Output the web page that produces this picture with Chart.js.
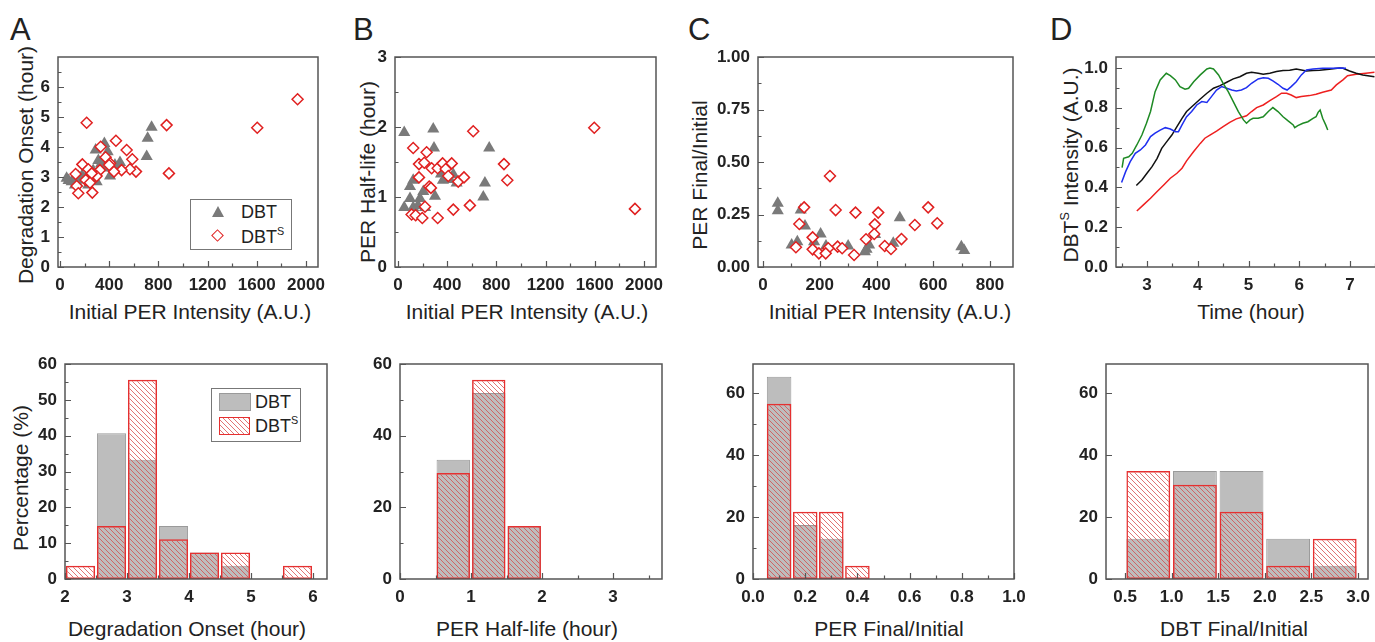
<!DOCTYPE html>
<html>
<head>
<meta charset="utf-8">
<script src="https://cdn.jsdelivr.net/npm/chart.js@4.4.1/dist/chart.umd.min.js"></script>
<style>
body { margin: 0; width: 1375px; height: 642px; overflow: hidden; background: #fff; position: relative;
       font-family: "Liberation Sans", Arial, sans-serif; color: #222; }
canvas { position: absolute; }
.t { position: absolute; white-space: nowrap; font-size: 21px; line-height: 1; transform: translate(-50%, -50%); }
.v { transform: translate(-50%, -50%) rotate(-90deg); }
.t sup, .lg sup { font-size: 0.6em; vertical-align: 0.7em; line-height: 0; }
.letter { position: absolute; font-size: 31px; line-height: 1; }
.lg { position: absolute; border: 1px solid #777; background: #fff; font-size: 18px; }
.lg span { position: absolute; line-height: 1; transform: translateY(-50%); white-space: nowrap; }
.tri { position: absolute; width: 0; height: 0; border-left: 6px solid transparent; border-right: 6px solid transparent; border-bottom: 11px solid #7a7a7a; }
.dia { position: absolute; width: 7px; height: 7px; border: 1.5px solid #e02020; transform: rotate(45deg); background: #fff; }
.sw { position: absolute; }
</style>
</head>
<body>

<div class="letter" style="left:10px;top:14px">A</div>
<div class="letter" style="left:353px;top:14px">B</div>
<div class="letter" style="left:688px;top:14px">C</div>
<div class="letter" style="left:1050px;top:14px">D</div>

<div class="t" style="left:190px;top:311px">Initial PER Intensity (A.U.)</div>
<div class="t" style="left:527px;top:311px">Initial PER Intensity (A.U.)</div>
<div class="t" style="left:890px;top:311px">Initial PER Intensity (A.U.)</div>
<div class="t" style="left:1251px;top:311px">Time (hour)</div>
<div class="t v" style="left:25px;top:165px">Degradation Onset (hour)</div>
<div class="t v" style="left:367px;top:172px">PER Half-life (hour)</div>
<div class="t v" style="left:699px;top:175px">PER Final/Initial</div>
<div class="t v" style="left:1070px;top:165px">DBT<sup>S</sup> Intensity (A.U.)</div>

<div class="t" style="left:187px;top:628px">Degradation Onset (hour)</div>
<div class="t" style="left:527px;top:628px">PER Half-life (hour)</div>
<div class="t" style="left:889px;top:628px">PER Final/Initial</div>
<div class="t" style="left:1234px;top:628px">DBT Final/Initial</div>
<div class="t v" style="left:20px;top:478px">Percentage (%)</div>

<div class="lg" style="left:190px;top:199px;width:100px;height:49px">
  <div class="tri" style="left:21px;top:6px"></div>
  <span style="left:50px;top:12px">DBT</span>
  <div class="dia" style="left:22px;top:31px"></div>
  <span style="left:50px;top:37px">DBT<sup>S</sup></span>
</div>

<div class="lg" style="left:211px;top:388px;width:88px;height:52px">
  <div class="sw" style="left:7px;top:4px;width:30px;height:16px;background:#bdbdbd;border:1px solid #9a9a9a"></div>
  <span style="left:43px;top:13px">DBT</span>
  <div class="sw" style="left:7px;top:28px;width:29px;height:16px;border:1.5px solid #e53030;
       background:repeating-linear-gradient(45deg,#fff 0 2.5px,rgba(215,70,70,0.75) 2.5px 3.5px)"></div>
  <span style="left:43px;top:37px">DBT<sup>S</sup></span>
</div>

<script>
// ---- panel A: degradation onset vs initial PER intensity ----
const onsetDbt = [[745,4.66],[713,4.29],[361,4.12],[705,3.68],[290,3.90],[388,3.84],[312,3.55],
  [488,3.48],[447,3.40],[407,3.03],[230,3.14],[335,3.45],[270,3.22],[365,3.30],[180,3.05],[150,3.02],
  [298,2.84],[230,2.73],[54,2.96],[95,2.84],[122,2.73],[163,2.96],[109,2.92],[70,2.88],[140,2.80],[200,2.90],[250,2.98]];
const onsetDbts = [[217,4.81],[867,4.73],[455,4.21],[331,4.01],[542,3.90],[371,3.66],[588,3.59],[182,3.42],
  [407,3.46],[886,3.12],[618,3.18],[569,3.26],[501,3.23],[439,3.18],[325,3.23],[230,3.26],[127,3.10],
  [298,3.03],[258,3.12],[209,2.90],[136,2.70],[244,2.81],[149,2.46],[263,2.48],[1604,4.64],[1932,5.59],[400,3.40]];

// ---- panel B: PER half-life vs initial PER intensity ----
const halfDbt = [[51,1.92],[287,1.97],[293,1.70],[742,1.70],[450,1.32],[382,1.27],[366,1.24],[477,1.20],
  [707,1.20],[694,1.00],[124,1.24],[98,1.15],[206,1.08],[301,1.01],[98,0.98],[179,0.98],[51,0.85],
  [124,0.85],[220,0.85],[163,0.88],[407,1.30],[350,1.33],[420,1.25]];
const halfDbts = [[612,1.94],[1596,1.99],[1927,0.83],[124,1.70],[233,1.64],[171,1.47],[214,1.49],[274,1.41],
  [323,1.41],[363,1.48],[388,1.40],[437,1.48],[409,1.30],[490,1.22],[537,1.28],[862,1.47],[889,1.24],
  [171,1.28],[254,1.15],[268,1.13],[220,0.86],[111,0.75],[144,0.74],[198,0.70],[323,0.70],[450,0.82],[585,0.88]];

// ---- panel C: PER final/initial vs initial PER intensity ----
const ratioDbt = [[52,0.303],[52,0.268],[133,0.271],[148,0.195],[203,0.157],[482,0.235],[699,0.097],
  [709,0.078],[101,0.105],[121,0.12],[222,0.10],[300,0.10],[365,0.084],[374,0.105],[459,0.113],
  [359,0.073],[395,0.155],[180,0.12]];
const ratioDbts = [[236,0.433],[145,0.284],[256,0.271],[326,0.259],[406,0.259],[582,0.284],[614,0.208],
  [535,0.20],[394,0.203],[128,0.205],[392,0.157],[363,0.132],[488,0.133],[175,0.141],[429,0.10],
  [451,0.086],[263,0.097],[279,0.089],[230,0.089],[175,0.084],[197,0.065],[221,0.065],[116,0.094],[321,0.057]];

// ---- panel D: DBTS intensity traces ----
const greenT = [2.51,2.54,2.64,2.71,2.80,2.90,2.99,3.07,3.16,3.26,3.38,3.46,3.56,3.65,3.75,3.82,3.92,4.05,4.18,
  4.24,4.31,4.41,4.50,4.60,4.70,4.80,4.90,4.96,5.03,5.09,5.19,5.29,5.39,5.48,5.58,5.68,5.78,5.88,5.91,5.97,
  6.07,6.17,6.27,6.33,6.37,6.41,6.46,6.52,6.56];
const greenY = [0.499,0.546,0.554,0.571,0.613,0.663,0.722,0.781,0.881,0.94,0.973,0.961,0.94,0.906,0.893,0.898,
  0.931,0.965,0.995,1.0,0.995,0.965,0.923,0.881,0.831,0.781,0.739,0.722,0.739,0.747,0.747,0.755,0.781,0.801,
  0.781,0.755,0.734,0.714,0.70,0.71,0.722,0.73,0.747,0.755,0.777,0.789,0.747,0.714,0.688];
const blueT = [2.50,2.58,2.67,2.77,2.87,2.97,3.07,3.16,3.26,3.36,3.46,3.56,3.62,3.69,3.78,3.88,3.98,4.08,4.18,
  4.27,4.37,4.47,4.57,4.67,4.76,4.86,4.96,5.06,5.19,5.29,5.39,5.48,5.58,5.68,5.76,5.84,5.94,6.04,6.14,6.27,
  6.46,6.66,6.82,6.92];
const blueY = [0.425,0.479,0.529,0.571,0.588,0.613,0.655,0.672,0.688,0.70,0.693,0.68,0.68,0.714,0.755,0.781,
  0.814,0.831,0.827,0.856,0.889,0.906,0.898,0.889,0.884,0.889,0.901,0.923,0.945,0.951,0.948,0.935,0.918,
  0.898,0.889,0.906,0.931,0.965,0.99,0.995,0.998,0.998,1.0,0.998];
const blackT = [2.79,2.90,3.00,3.10,3.20,3.29,3.39,3.49,3.59,3.69,3.78,3.92,4.05,4.18,4.31,4.44,4.57,4.70,4.83,
  4.96,5.06,5.19,5.29,5.42,5.55,5.68,5.81,5.94,6.04,6.14,6.27,6.40,6.59,6.79,6.86,6.99,7.12,7.25,7.48];
const blackY = [0.409,0.437,0.471,0.504,0.546,0.596,0.63,0.663,0.705,0.747,0.781,0.814,0.844,0.873,0.898,0.911,
  0.928,0.945,0.956,0.973,0.978,0.973,0.968,0.973,0.982,0.987,0.988,0.995,0.99,0.985,0.987,0.988,0.993,1.0,
  0.998,0.985,0.973,0.965,0.956];
const redT = [2.80,2.93,3.07,3.20,3.33,3.46,3.59,3.69,3.78,3.92,4.05,4.14,4.24,4.37,4.50,4.63,4.76,4.90,4.96,
  5.06,5.16,5.29,5.42,5.55,5.65,5.75,5.84,5.94,6.04,6.20,6.33,6.46,6.63,6.73,6.86,6.95,7.12,7.31,7.48];
const redY = [0.281,0.312,0.345,0.379,0.412,0.446,0.471,0.496,0.533,0.58,0.621,0.647,0.663,0.683,0.705,0.727,
  0.744,0.755,0.76,0.781,0.801,0.814,0.836,0.856,0.873,0.873,0.864,0.851,0.856,0.861,0.868,0.878,0.889,
  0.915,0.94,0.961,0.968,0.973,0.978];

// ---- histograms (bin centres, percentages) ----
const onsetBins = [2.25,2.75,3.25,3.75,4.25,4.75,5.25,5.75];
const onsetPctDbt = [0,40.7,33.3,14.8,7.4,3.7,0,0];
const onsetPctDbts = [3.7,14.8,55.6,11.1,7.4,7.4,0,3.7];
const halfBins = [0.75,1.25,1.75];
const halfPctDbt = [33.3,51.9,14.8];
const halfPctDbts = [29.6,55.6,14.8];
const perBins = [0.1,0.2,0.3,0.4];
const perPctDbt = [65.2,17.4,13.0,0];
const perPctDbts = [56.5,21.7,21.7,4.3];
const dbtBins = [0.75,1.25,1.75,2.25,2.75];
const dbtPctDbt = [13.0,34.8,34.8,13.0,4.3];
const dbtPctDbts = [34.8,30.4,21.7,4.3,13.0];

// ---- tick labels ----
const intensityTicks = [0,400,800,1200,1600,2000];
const intensityTicksC = [0,200,400,600,800];
const onsetTicks = [0,1,2,3,4,5,6];
const halfTicks = [0,1,2,3];
const ratioTicks = [0,0.25,0.5,0.75,1];
const timeTicks = [3,4,5,6,7];
const intensTicks = [0,0.2,0.4,0.6,0.8,1.0];
const onsetHistTicks = [2,3,4,5,6];
const halfHistTicks = [0,1,2,3];
const perHistTicks = [0,0.2,0.4,0.6,0.8,1.0];
const dbtHistTicks = [0.5,1.0,1.5,2.0,2.5,3.0];
const pctTicks = [0,10,20,30,40,50,60];
const pctTicks20 = [0,20,40,60];

const GRAY = '#7a7a7a', RED = '#e02020';
const pts = arr => arr.map(p => ({x: p[0], y: p[1]}));
const xy = (xs, ys) => xs.map((x, i) => ({x, y: ys[i]}));

// frame box and inward tick marks (Origin style)
const frameTicks = {
  id: 'frameTicks',
  afterDraw(chart, args, opts) {
    const {ctx, chartArea: a} = chart;
    ctx.save();
    ctx.strokeStyle = '#555';
    ctx.lineWidth = 1.5;
    ctx.strokeRect(a.left, a.top, a.right - a.left, a.bottom - a.top);
    ctx.lineWidth = 1.2;
    ['x', 'y'].forEach(id => {
      const sc = chart.scales[id];
      const vals = sc.ticks.map(t => t.value);
      const step = vals[1] - vals[0];
      const list = vals.map(v => [v, 6]);
      if (opts.minor !== false) {
        for (let v = vals[0] - step / 2; v <= sc.max + 1e-9; v += step) {
          if (v >= sc.min - 1e-9) list.push([v, 3.5]);
        }
      }
      ctx.beginPath();
      list.forEach(([v, len]) => {
        const p = Math.round(sc.getPixelForValue(v)) + 0.5;
        if (id === 'x') { ctx.moveTo(p, a.bottom); ctx.lineTo(p, a.bottom - len); }
        else { ctx.moveTo(a.left, p); ctx.lineTo(a.left + len, p); }
      });
      ctx.stroke();
    });
    ctx.restore();
  }
};

function axis(min, max, tickVals, fmt) {
  return {
    type: 'linear', min, max, offset: false,
    border: {display: false},
    grid: {display: false, drawTicks: false, offset: false},
    afterBuildTicks: s => { s.ticks = tickVals.map(v => ({value: v})); },
    ticks: {
      autoSkip: false, maxRotation: 0, padding: 8,
      color: '#222', font: {family: 'Liberation Sans', size: 17, weight: 'bold'},
      callback: fmt || (v => v)
    }
  };
}

function hatch() {
  const s = 5, p = document.createElement('canvas');
  p.width = p.height = s;
  const g = p.getContext('2d');
  g.strokeStyle = 'rgba(215,70,70,0.75)';
  g.lineWidth = 1;
  g.beginPath();
  g.moveTo(0, 0); g.lineTo(s, s);
  g.moveTo(-1, s - 1); g.lineTo(1, s + 1);
  g.moveTo(s - 1, -1); g.lineTo(s + 1, 1);
  g.stroke();
  return g.createPattern(p, 'repeat');
}

// box = [left, right, top, bottom] of the plot area in page pixels
function panel(box, type, datasets, xs, ys, tickOpts) {
  const c = document.createElement('canvas');
  const W = box[1] - box[0] + 80, H = box[3] - box[2] + 60;
  c.width = W; c.height = H;
  c.style.width = W + 'px'; c.style.height = H + 'px';
  c.style.left = (box[0] - 60) + 'px';
  c.style.top = (box[2] - 20) + 'px';
  document.body.appendChild(c);
  xs.afterFit = s => { s.height = 40; };
  ys.afterFit = s => { s.width = 60; };
  new Chart(c, {
    type,
    data: {datasets},
    options: {
      responsive: false, animation: false,
      layout: {padding: {top: 20, right: 20, left: 0, bottom: 0}},
      plugins: {legend: {display: false}, tooltip: {enabled: false}, frameTicks: tickOpts || {}},
      scales: {x: xs, y: ys}
    },
    plugins: [frameTicks]
  });
}

function scatterSets(dbt, dbts) {
  return [
    {data: pts(dbts), pointStyle: 'rectRot', pointRadius: 5.5, borderColor: RED, borderWidth: 1.5,
     backgroundColor: '#fff', order: 0},
    {data: pts(dbt), pointStyle: 'triangle', pointRadius: 7, borderColor: GRAY, borderWidth: 0,
     backgroundColor: GRAY, order: 1}
  ];
}

function histSets(bins, dbt, dbts) {
  const common = {grouped: false, categoryPercentage: 1, barPercentage: 0.94, borderSkipped: false};
  return [
    Object.assign({data: xy(bins, dbts), backgroundColor: hatch(), borderColor: '#e53030', borderWidth: 1.5, order: 0}, common),
    Object.assign({data: xy(bins, dbt), backgroundColor: '#bdbdbd', borderColor: '#9a9a9a', borderWidth: 1, order: 1}, common)
  ];
}

const f1 = v => v.toFixed(1), f2 = v => v.toFixed(2);

// top row
panel([58, 318, 57, 267], 'scatter', scatterSets(onsetDbt, onsetDbts), axis(-16, 2098, intensityTicks), axis(0, 7, onsetTicks));
panel([395, 656, 57, 267], 'scatter', scatterSets(halfDbt, halfDbts), axis(-24, 2098, intensityTicks), axis(0, 3, halfTicks));
panel([758, 1013, 57, 267], 'scatter', scatterSets(ratioDbt, ratioDbts), axis(-17.6, 881, intensityTicksC), axis(0, 1, ratioTicks, f2));
panel([1116, 1378, 57, 267], 'scatter', [
  {data: xy(greenT, greenY), borderColor: '#1e8a24'},
  {data: xy(blueT, blueY), borderColor: '#1f2ff0'},
  {data: xy(blackT, blackY), borderColor: '#111'},
  {data: xy(redT, redY), borderColor: '#ee2020'}
].map(d => Object.assign(d, {showLine: true, pointRadius: 0, borderWidth: 1.5, fill: false})),
  axis(2.39, 7.55, timeTicks), axis(0, 1.055, intensTicks, f1));

// bottom row
panel([65, 327, 364, 579], 'bar', histSets(onsetBins, onsetPctDbt, onsetPctDbts), axis(2, 6.226, onsetHistTicks), axis(0, 60, pctTicks));
panel([400, 662, 364, 579], 'bar', histSets(halfBins, halfPctDbt, halfPctDbts), axis(0, 3.69, halfHistTicks), axis(0, 60, pctTicks20));
panel([753, 1014, 364, 579], 'bar', histSets(perBins, perPctDbt, perPctDbts), axis(0, 1, perHistTicks, f1), axis(0, 69.35, pctTicks20));
panel([1106, 1368, 364, 579], 'bar', histSets(dbtBins, dbtPctDbt, dbtPctDbts), axis(0.296, 3.107, dbtHistTicks, f1), axis(0, 69.35, pctTicks20), {minor: false});
</script>
</body>
</html>
